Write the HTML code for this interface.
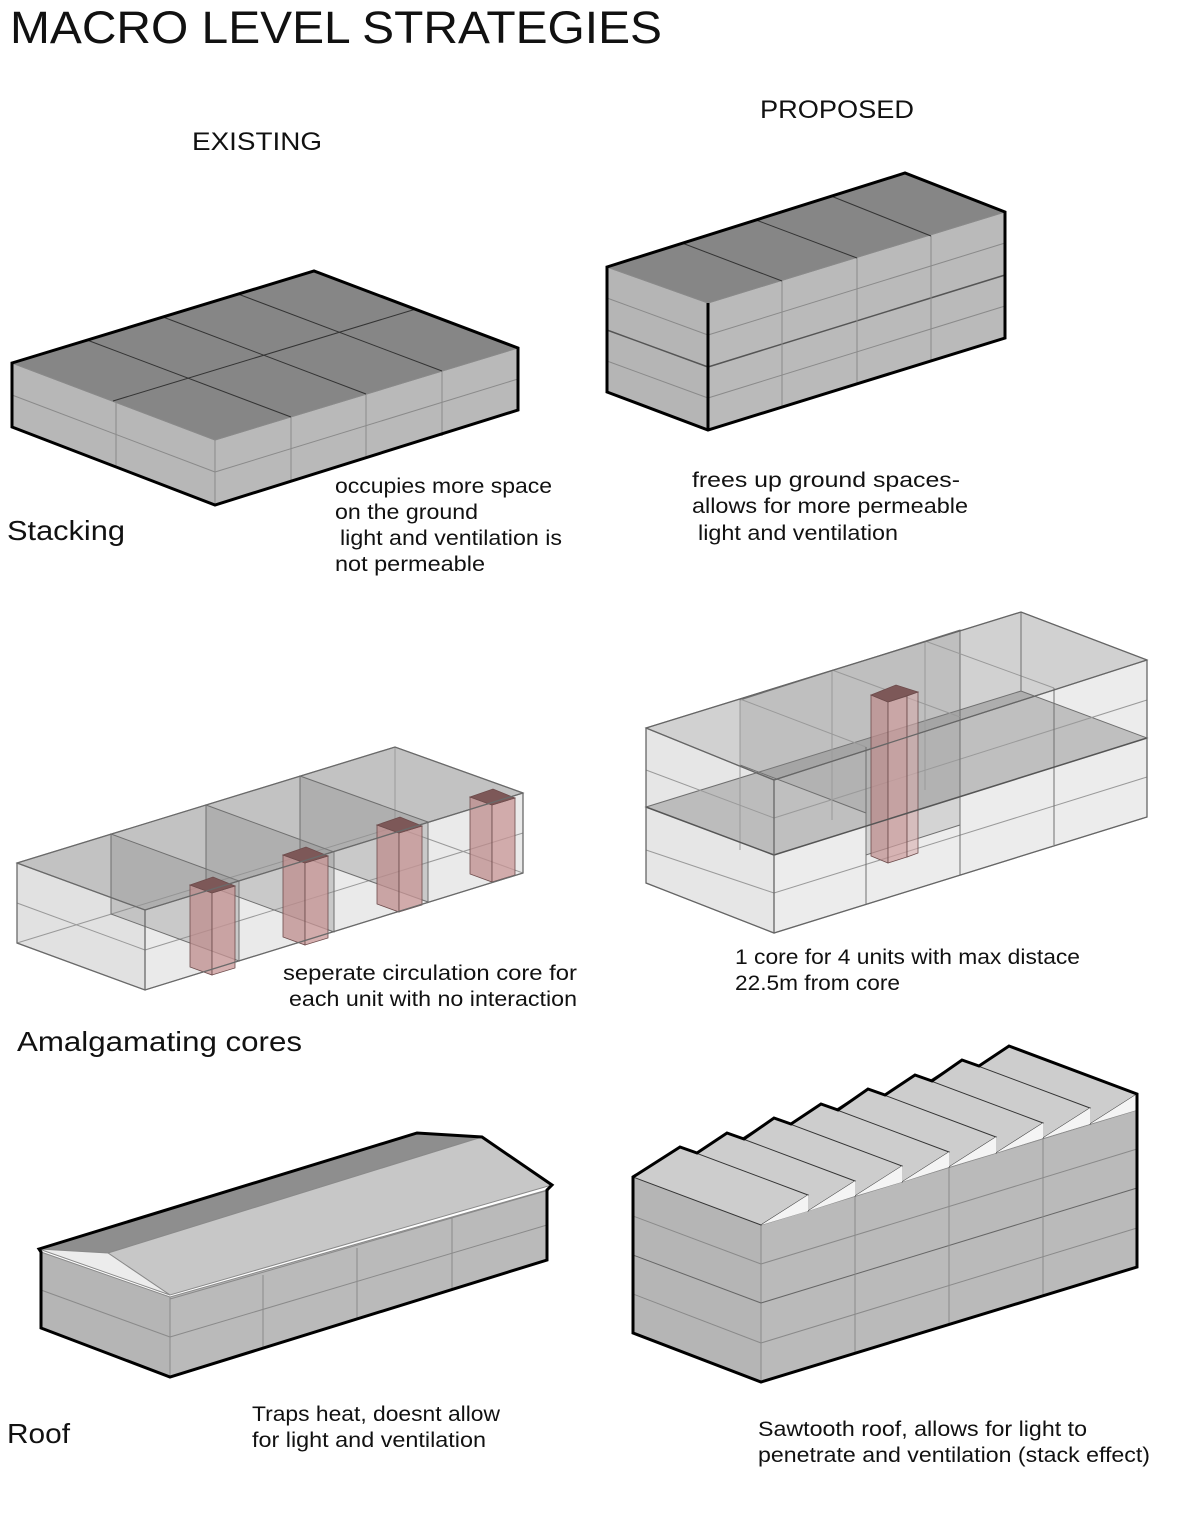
<!DOCTYPE html>
<html><head><meta charset="utf-8"><style>
html,body{margin:0;padding:0;background:#fff}
svg{display:block}
text{font-family:"Liberation Sans",sans-serif;fill:#111}
</style></head><body>
<svg width="1200" height="1538" viewBox="0 0 1200 1538" xmlns="http://www.w3.org/2000/svg">
<rect width="1200" height="1538" fill="#fff"/>

<!-- Titles -->
<text x="10" y="43" font-size="45" textLength="652" lengthAdjust="spacingAndGlyphs">MACRO LEVEL STRATEGIES</text>
<text x="192" y="150" font-size="25" textLength="130" lengthAdjust="spacingAndGlyphs">EXISTING</text>
<text x="760" y="118" font-size="25" textLength="154" lengthAdjust="spacingAndGlyphs">PROPOSED</text>

<!-- ===== Stacking existing ===== -->
<g stroke="#8a8a8a" stroke-width="1">
<polygon points="12,363 215,440 215,505 12,427" fill="#b7b7b7"/>
<polygon points="215,440 518,348 518,410 215,505" fill="#b9b9b9"/>
<polygon points="12,363 314,271 518,348 215,440" fill="#868686"/>
<line x1="116" y1="402" x2="116" y2="466"/>
<line x1="12" y1="395" x2="215" y2="472"/>
<line x1="215" y1="472" x2="518" y2="379"/>
<line x1="291" y1="417" x2="291" y2="482"/>
<line x1="366" y1="394" x2="366" y2="459"/>
<line x1="442" y1="371" x2="442" y2="436"/>
<g stroke="#333">
<line x1="87" y1="340" x2="291" y2="417"/>
<line x1="163" y1="317" x2="366" y2="394"/>
<line x1="238" y1="294" x2="442" y2="371"/>
<line x1="113" y1="401" x2="416" y2="309"/>
</g>
</g>
<path d="M12,363 L314,271 L518,348 L518,410 L215,505 L12,427 Z" fill="none" stroke="#000" stroke-width="3"/>

<!-- ===== Stacking proposed ===== -->
<g stroke="#8a8a8a" stroke-width="1">
<polygon points="607,267 708,303 708,430 607,392" fill="#b5b5b5"/>
<polygon points="708,303 1005,212 1005,338 708,430" fill="#bababa"/>
<polygon points="607,267 905,173 1005,212 708,303" fill="#868686"/>
<line x1="607" y1="298" x2="708" y2="335"/><line x1="708" y1="335" x2="1005" y2="243"/>
<line x1="607" y1="330" x2="708" y2="367" stroke="#555" stroke-width="1.5"/><line x1="708" y1="367" x2="1005" y2="275" stroke="#555" stroke-width="1.5"/>
<line x1="607" y1="361" x2="708" y2="398"/><line x1="708" y1="398" x2="1005" y2="306"/>
<line x1="782" y1="281" x2="782" y2="407"/>
<line x1="857" y1="258" x2="857" y2="384"/>
<line x1="931" y1="236" x2="931" y2="361"/>
<g stroke="#333">
<line x1="682" y1="243" x2="782" y2="281"/>
<line x1="756" y1="220" x2="857" y2="258"/>
<line x1="831" y1="196" x2="931" y2="236"/>
</g>
</g>
<path d="M607,267 L905,173 L1005,212 L1005,338 L708,430 L607,392 Z M708,303 L708,430" fill="none" stroke="#000" stroke-width="3"/>

<text x="7" y="540" font-size="28" textLength="118" lengthAdjust="spacingAndGlyphs">Stacking</text>
<g font-size="21">
<text x="335" y="493" textLength="217" lengthAdjust="spacingAndGlyphs">occupies more space</text>
<text x="335" y="519" textLength="143" lengthAdjust="spacingAndGlyphs">on the ground</text>
<text x="340" y="545" textLength="222" lengthAdjust="spacingAndGlyphs">light and ventilation is</text>
<text x="335" y="571" textLength="150" lengthAdjust="spacingAndGlyphs">not permeable</text>
<text x="692" y="487" textLength="268" lengthAdjust="spacingAndGlyphs">frees up ground spaces-</text>
<text x="692" y="513" textLength="276" lengthAdjust="spacingAndGlyphs">allows for more permeable</text>
<text x="698" y="540" textLength="200" lengthAdjust="spacingAndGlyphs">light and ventilation</text>
</g>

<!-- ===== Amalgamating existing ===== -->
<g stroke="#6f6f6f" stroke-width="1">
<polygon points="17,863 395,747 523,793 145,910" fill="rgba(120,120,120,0.45)"/>
<polygon points="17,863 145,910 145,990 17,943" fill="rgba(205,205,205,0.6)"/>
<polygon points="145,910 523,793 523,873 145,990" fill="rgba(220,220,220,0.6)"/>
<g stroke="#999">
<line x1="17" y1="903" x2="145" y2="950"/><line x1="145" y1="950" x2="523" y2="833"/>
<line x1="17" y1="943" x2="395" y2="827"/><line x1="395" y1="827" x2="523" y2="873"/>
<line x1="395" y1="747" x2="395" y2="827"/>
</g>
<polygon points="111,834 239,881 239,961 111,914" fill="rgba(140,140,140,0.35)"/>
<polygon points="206,805 334,852 334,932 206,885" fill="rgba(140,140,140,0.35)"/>
<polygon points="300,776 428,822 428,902 300,856" fill="rgba(140,140,140,0.35)"/>
</g>
<!-- cores -->
<g stroke="#6d4c4c" stroke-width="0.8">
<polygon points="190,885 212,893 212,975 190,967" fill="rgba(190,140,140,0.75)"/>
<polygon points="212,893 235,886 235,968 212,975" fill="rgba(200,150,150,0.75)"/>
<polygon points="190,885 213,877 235,886 212,893" fill="#7d5858"/>
<polygon points="283,855 305,863 305,945 283,937" fill="rgba(190,140,140,0.75)"/>
<polygon points="305,863 328,856 328,938 305,945" fill="rgba(200,150,150,0.75)"/>
<polygon points="283,855 306,847 328,856 305,863" fill="#7d5858"/>
<polygon points="377,825 399,833 399,912 377,904" fill="rgba(190,140,140,0.75)"/>
<polygon points="399,833 422,826 422,905 399,912" fill="rgba(200,150,150,0.75)"/>
<polygon points="377,825 400,817 422,826 399,833" fill="#7d5858"/>
<polygon points="470,797 492,805 492,882 470,874" fill="rgba(190,140,140,0.75)"/>
<polygon points="492,805 515,798 515,875 492,882" fill="rgba(200,150,150,0.75)"/>
<polygon points="470,797 493,789 515,798 492,805" fill="#7d5858"/>
</g>
<path d="M17,863 L395,747 L523,793 L523,873 L145,990 L17,943 Z M17,863 L145,910 L523,793 M145,910 L145,990" fill="none" stroke="#6a6a6a" stroke-width="1.3"/>

<!-- ===== Amalgamating proposed ===== -->
<g stroke="#6f6f6f" stroke-width="1">
<polygon points="646,728 1021,612 1147,660 774,780" fill="rgba(140,140,140,0.4)"/>
<polygon points="646,728 774,780 774,933 646,883" fill="rgba(210,210,210,0.55)"/>
<polygon points="774,780 1147,660 1147,817 774,933" fill="rgba(220,220,220,0.55)"/>
<polygon points="646,807 1021,691 1147,738 774,855" fill="rgba(110,110,110,0.35)"/>
<polygon points="740,700 960,630 960,825 866,855 866,813 740,765" fill="rgba(140,140,140,0.25)"/>
<g stroke="#9a9a9a">
<line x1="740" y1="699" x2="866" y2="747"/>
<line x1="832" y1="670" x2="960" y2="717"/>
<line x1="925" y1="641" x2="1054" y2="688"/>
<line x1="646" y1="770" x2="774" y2="818"/><line x1="774" y1="818" x2="1147" y2="700"/>
<line x1="646" y1="850" x2="774" y2="893"/><line x1="774" y1="893" x2="1147" y2="777"/>
<line x1="740" y1="700" x2="740" y2="850"/>
<line x1="832" y1="670" x2="832" y2="820"/>
<line x1="925" y1="641" x2="925" y2="790"/>
</g>
<line x1="866" y1="747" x2="866" y2="905"/>
<line x1="960" y1="717" x2="960" y2="875"/>
<line x1="1054" y1="688" x2="1054" y2="845"/>
<line x1="1021" y1="612" x2="1021" y2="691"/>
</g>
<!-- core -->
<g stroke="#6d4c4c" stroke-width="0.8">
<polygon points="871,695 888,702 888,863 871,856" fill="rgba(190,140,140,0.7)"/>
<polygon points="888,702 907,696 907,857 888,863" fill="rgba(205,155,155,0.7)"/>
<polygon points="907,696 918,692 918,853 907,857" fill="rgba(215,170,170,0.55)"/>
<polygon points="871,695 896,685 918,692 888,702" fill="#7d5858"/>
</g>
<line x1="646" y1="807" x2="774" y2="855" stroke="#555" stroke-width="1.5"/>
<line x1="774" y1="855" x2="1147" y2="738" stroke="#555" stroke-width="1.5"/>
<path d="M646,728 L1021,612 L1147,660 L1147,817 L774,933 L646,883 Z M646,728 L774,780 L1147,660 M774,780 L774,933" fill="none" stroke="#666" stroke-width="1.3"/>

<g font-size="21">
<text x="283" y="980" textLength="294" lengthAdjust="spacingAndGlyphs">seperate  circulation core for</text>
<text x="289" y="1006" textLength="288" lengthAdjust="spacingAndGlyphs">each unit with no interaction</text>
<text x="735" y="964" textLength="345" lengthAdjust="spacingAndGlyphs">1 core for 4 units with max distace</text>
<text x="735" y="990" textLength="165" lengthAdjust="spacingAndGlyphs">22.5m from core</text>
</g>
<text x="17" y="1051" font-size="28" textLength="285" lengthAdjust="spacingAndGlyphs">Amalgamating cores</text>

<!-- ===== Roof existing ===== -->
<g stroke="#8a8a8a" stroke-width="1">
<polygon points="41,1252 170,1297 170,1377 41,1328" fill="#b5b5b5"/>
<polygon points="170,1297 547,1190 547,1260 170,1377" fill="#bababa"/>
<line x1="41" y1="1290" x2="170" y2="1337"/><line x1="170" y1="1337" x2="547" y2="1225"/>
<line x1="263" y1="1275" x2="263" y2="1349"/>
<line x1="357" y1="1248" x2="357" y2="1320"/>
<line x1="452" y1="1218" x2="452" y2="1290"/>
<polygon points="39,1249 417,1133 482,1137 108,1253" fill="#8e8e8e"/>
<polygon points="108,1253 482,1137 552,1185 170,1295" fill="#c7c7c7"/>
<polygon points="39,1249 108,1253 170,1295" fill="#ececec"/>
<line x1="170" y1="1299" x2="549" y2="1190"/>
</g>
<path d="M39,1249 L417,1133 L482,1137 L552,1185 L547,1190 L547,1260 L170,1377 L41,1328 L41,1252 Z" fill="none" stroke="#000" stroke-width="3"/>

<!-- ===== Sawtooth proposed ===== -->
<g stroke="#8a8a8a" stroke-width="1">
<polygon points="633,1177 761,1225 761,1382 633,1333" fill="#b5b5b5"/>
<polygon points="761,1225 1137,1110 1137,1267 761,1382" fill="#bababa"/>
<line x1="633" y1="1216" x2="761" y2="1264"/><line x1="761" y1="1264" x2="1137" y2="1149"/>
<line x1="633" y1="1255" x2="761" y2="1303" stroke="#666"/><line x1="761" y1="1303" x2="1137" y2="1188" stroke="#666"/>
<line x1="633" y1="1294" x2="761" y2="1343"/><line x1="761" y1="1343" x2="1137" y2="1228"/>
<line x1="855" y1="1196" x2="855" y2="1353"/>
<line x1="949" y1="1167" x2="949" y2="1324"/>
<line x1="1043" y1="1139" x2="1043" y2="1296"/>
</g>
<g stroke="#333" stroke-width="1">
<polygon points="962,1076 1009,1046 1137,1094 1090,1124" fill="#cdcdcd"/><polygon points="1090,1124 1137,1094 1137,1110" fill="#f4f4f4" stroke="none"/>
<polygon points="915,1090 962,1060 1090,1108 1043,1138" fill="#cdcdcd"/><polygon points="1043,1138 1090,1108 1090,1124" fill="#f4f4f4" stroke="none"/>
<polygon points="868,1105 915,1075 1043,1123 996,1153" fill="#cdcdcd"/><polygon points="996,1153 1043,1123 1043,1138" fill="#f4f4f4" stroke="none"/>
<polygon points="821,1119 868,1089 996,1137 949,1167" fill="#cdcdcd"/><polygon points="949,1167 996,1137 996,1153" fill="#f4f4f4" stroke="none"/>
<polygon points="774,1134 821,1104 949,1152 902,1182" fill="#cdcdcd"/><polygon points="902,1182 949,1152 949,1167" fill="#f4f4f4" stroke="none"/>
<polygon points="727,1148 774,1118 902,1166 855,1196" fill="#cdcdcd"/><polygon points="855,1196 902,1166 902,1182" fill="#f4f4f4" stroke="none"/>
<polygon points="680,1163 727,1133 855,1181 808,1211" fill="#cdcdcd"/><polygon points="808,1211 855,1181 855,1196" fill="#f4f4f4" stroke="none"/>
<polygon points="633,1177 680,1147 808,1195 761,1225" fill="#cdcdcd"/><polygon points="761,1225 808,1195 808,1211" fill="#f4f4f4" stroke="none"/>
</g>
<path d="M633,1333 L633,1177 L680,1147 L697,1153 L727,1133 L744,1139 L774,1118 L791,1124 L821,1104 L838,1110 L868,1089 L885,1095 L915,1075 L932,1081 L962,1060 L979,1066 L1009,1046 L1137,1094 L1137,1267 L761,1382 Z" fill="none" stroke="#000" stroke-width="3"/>

<g font-size="21">
<text x="252" y="1421" textLength="248" lengthAdjust="spacingAndGlyphs">Traps heat, doesnt allow</text>
<text x="252" y="1447" textLength="234" lengthAdjust="spacingAndGlyphs">for light and ventilation</text>
<text x="758" y="1436" textLength="329" lengthAdjust="spacingAndGlyphs">Sawtooth roof, allows for light to</text>
<text x="758" y="1462" textLength="392" lengthAdjust="spacingAndGlyphs">penetrate and ventilation (stack effect)</text>
</g>
<text x="7" y="1443" font-size="28" textLength="63" lengthAdjust="spacingAndGlyphs">Roof</text>
</svg>
</body></html>
